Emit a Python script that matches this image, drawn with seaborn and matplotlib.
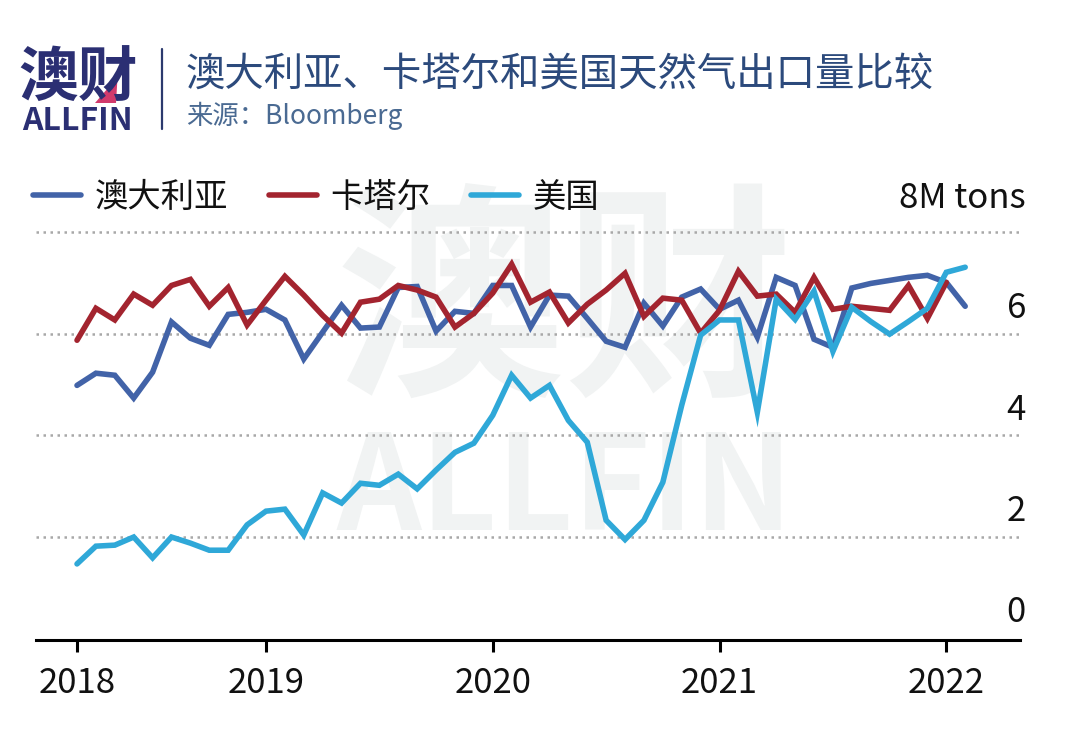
import pandas as pd
import seaborn as sns
import matplotlib.pyplot as plt
from matplotlib.patches import Polygon
from matplotlib.transforms import ScaledTranslation

title = '澳大利亚、卡塔尔和美国天然气出口量比较'
source = '来源：Bloomberg'
series_names = ['澳大利亚', '卡塔尔', '美国']
colors = ['#4263a8', '#a3242f', '#2fa8d8']

# chart has 48 points, the first year is short
year_pos = [0, 10, 22, 34, 46]
year_labels = ['2018', '2019', '2020', '2021', '2022']
y_ticks = [0, 2, 4, 6, 8]
y_labels = ['0', '2', '4', '6', '8M tons']

australia = [4.98, 5.22, 5.18, 4.73, 5.24, 6.23, 5.91, 5.77, 6.38, 6.42, 6.48, 6.27,
             5.50, 6.03, 6.56, 6.11, 6.13, 6.91, 6.93, 6.05, 6.44, 6.40, 6.95, 6.95,
             6.13, 6.76, 6.74, 6.30, 5.85, 5.73, 6.60, 6.15, 6.72, 6.88, 6.48, 6.66,
             5.93, 7.11, 6.95, 5.89, 5.73, 6.90, 6.99, 7.05, 7.11, 7.15, 7.01, 6.54]
qatar = [5.87, 6.50, 6.27, 6.78, 6.56, 6.95, 7.07, 6.54, 6.91, 6.17, 6.66, 7.13,
         6.76, 6.36, 6.01, 6.62, 6.68, 6.95, 6.86, 6.72, 6.13, 6.40, 6.80, 7.37,
         6.62, 6.82, 6.21, 6.58, 6.86, 7.19, 6.34, 6.70, 6.66, 6.01, 6.46, 7.23,
         6.74, 6.78, 6.42, 7.11, 6.48, 6.54, 6.50, 6.46, 6.95, 6.30, 7.01, None]
usa = [1.46, 1.81, 1.83, 1.99, 1.58, 1.99, 1.87, 1.73, 1.73, 2.23, 2.50, 2.54,
       2.03, 2.86, 2.66, 3.05, 3.01, 3.23, 2.94, 3.31, 3.66, 3.84, 4.39, 5.18,
       4.73, 4.98, 4.29, 3.86, 2.32, 1.94, 2.32, 3.07, 4.59, 5.97, 6.27, 6.27,
       4.45, 6.68, 6.28, 6.84, 5.65, 6.52, 6.24, 5.99, 6.24, 6.50, 7.21, 7.31]

W, H = 1080, 730

sns.set_theme(style='white')
plt.rcParams['font.family'] = ['Noto Sans CJK SC', 'DejaVu Sans']

df = pd.DataFrame({'idx': range(len(usa)), series_names[0]: australia,
                   series_names[1]: qatar, series_names[2]: usa})
long_df = df.melt(id_vars='idx', var_name='country', value_name='tons').dropna()

fig = plt.figure(figsize=(W / 100, H / 100), dpi=100)
ax = fig.add_axes([36 / W, 1 - 640 / H, 984 / W, 423 / H])
ax.patch.set_visible(False)

sns.lineplot(data=long_df, x='idx', y='tons', hue='country', hue_order=series_names,
             palette=colors, linewidth=4.0, errorbar=None, ax=ax, zorder=3,
             solid_joinstyle='miter')

ax.set_xlim(-2.17, 49.9)
ax.set_ylim(-0.04, 8.3)
ax.set_xlabel('')
ax.set_ylabel('')
sns.despine(ax=ax, left=True)
ax.spines['bottom'].set_linewidth(2.2)
ax.spines['bottom'].set_color('black')

ax.set_xticks(year_pos, year_labels)
ax.tick_params(axis='x', length=8.6, width=2.2, color='black', pad=10, labelsize=25, labelcolor='#111111', bottom=True)

ax.yaxis.tick_right()
ax.set_yticks(y_ticks, y_labels)
ax.tick_params(axis='y', length=0, pad=4.3, labelsize=25, labelcolor='#111111')
ax.grid(axis='y', color='#a8a8a8', linewidth=1.8, linestyle=(0, (1, 1.8)))
ax.yaxis.get_gridlines()[0].set_visible(False)
for tick_val, lab in zip(y_ticks, ax.get_yticklabels()):
    lift = 34 if tick_val == 8 else 25
    lab.set_ha('right')
    lab.set_va('center')
    lab.set_transform(lab.get_transform() + ScaledTranslation(0, lift / 100, fig.dpi_scale_trans))

leg = ax.legend(frameon=False, ncol=3, loc='center left', bbox_to_anchor=(33 / W, 1 - 197 / H),
                bbox_transform=fig.transFigure, fontsize=24, handlelength=1.44, handletextpad=0.42,
                columnspacing=1.2, borderpad=0, borderaxespad=0)
for line in leg.get_lines():
    line.set_linewidth(4.0)
    line.set_solid_capstyle('round')
for t in leg.get_texts():
    t.set_color('#111111')

# watermark behind the chart
fig.text(565 / W, 1 - 311 / H, '澳财', fontsize=165, fontweight='bold', color='#f1f3f3',
         ha='center', va='center', zorder=-1)
fig.text(565 / W, 1 - 491 / H, 'ALLFIN', fontsize=95, fontweight='bold', color='#f1f3f3',
         ha='center', va='center', zorder=-1)

# header
navy = '#2b2f73'
fig.text(78 / W, 1 - 80 / H, '澳财', fontsize=43, fontweight='bold', color=navy, ha='center', va='center')
fig.text(78 / W, 1 - 121 / H, 'ALLFIN', fontsize=23, fontweight='bold', color=navy, ha='center', va='center')
fig.add_artist(Polygon([(95 / W, 1 - 103 / H), (116 / W, 1 - 103 / H), (118 / W, 1 - 70 / H), (108 / W, 1 - 88 / H)],
                       closed=True, transform=fig.transFigure, color='#d13a6c', lw=0))
fig.add_artist(plt.Line2D([162 / W, 162 / W], [1 - 49 / H, 1 - 129 / H], color='#2c3a6e', linewidth=1.6,
                          transform=fig.transFigure))
fig.text(186 / W, 1 - 76 / H, title, fontsize=28.4, color='#2c4a7c', ha='left', va='center')
fig.text(186 / W, 1 - 116 / H, source, fontsize=19, color='#4a6a92', ha='left', va='center')

plt.savefig('out.png', dpi=100)
